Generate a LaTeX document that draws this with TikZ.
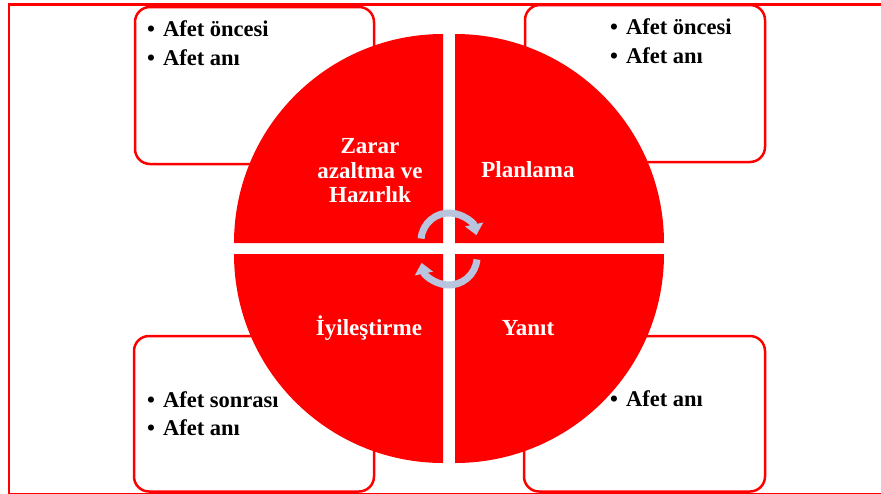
\documentclass[tikz,border=0pt]{standalone}
\usepackage{fontspec}
\setmainfont{Liberation Serif}
\usepackage{tikz}
\usetikzlibrary{arrows.meta}
\definecolor{afetred}{HTML}{FF0000}
\definecolor{cycleblue}{HTML}{B9C4DE}

\begin{document}
\begin{tikzpicture}[x=1pt,y=-1pt,
  kutu/.style={draw=afetred,line width=2.5pt,rounded corners=15pt,fill=white},
  madde/.style={anchor=base west,inner sep=0pt,font=\fontsize{22.5}{29}\selectfont\bfseries},
  dilim/.style={inner sep=0pt,text=white,align=center,font=\fontsize{23}{24.5}\selectfont\bfseries},
  dongu/.style={cycleblue,line width=7pt,-{Triangle[width=18pt,length=11pt]}}]
  \useasboundingbox (0,0) rectangle (881,493);
  \clip (0,0) rectangle (881,493);
  % frame and the four side boxes
  \draw[afetred,line width=2.5pt] (9,4.5) rectangle (900,494);
  \draw[kutu] (135,7) rectangle (374,164);
  \draw[kutu] (525,5) rectangle (765,162);
  \draw[kutu] (134,336) rectangle (374,491.5);
  \draw[kutu] (524,336) rectangle (765,491.5);
  % four quarter discs
  \foreach \cx/\cy/\a in {443/243/180,455/243/270,455/254/0,443/254/90}
    \fill[afetred] (\cx,\cy) -- ++(\a:209) arc[start angle=\a,delta angle=90,radius=209] -- cycle;
  \node[dilim] (zarar) at (370,171) {Zarar\\azaltma ve\\Hazırlık};
  \node[dilim,anchor=base] (plan) at (528,177) {Planlama};
  \node[dilim,anchor=base] (iyi) at (369,335) {İyileştirme};
  \node[dilim,anchor=base] (yanit) at (528,335) {Yanıt};
  % bullet lines
  \foreach \x/\y/\t [count=\i] in {147/36/Afet öncesi,147/65/Afet anı,610/34/Afet öncesi,610/63/Afet anı,147/407/Afet sonrası,147/435/Afet anı,610/406/Afet anı}
    \node[madde] (madde\i) at (\x,\y) {\textbullet\hspace{8pt}\t};
  % cycle arrows
  \draw[dongu] (449,241) ++(-175:28) arc[start angle=-175,end angle=-12,radius=28];
  \draw[dongu] (449,257) ++(5:28) arc[start angle=5,end angle=168,radius=28];
\end{tikzpicture}
\end{document}
